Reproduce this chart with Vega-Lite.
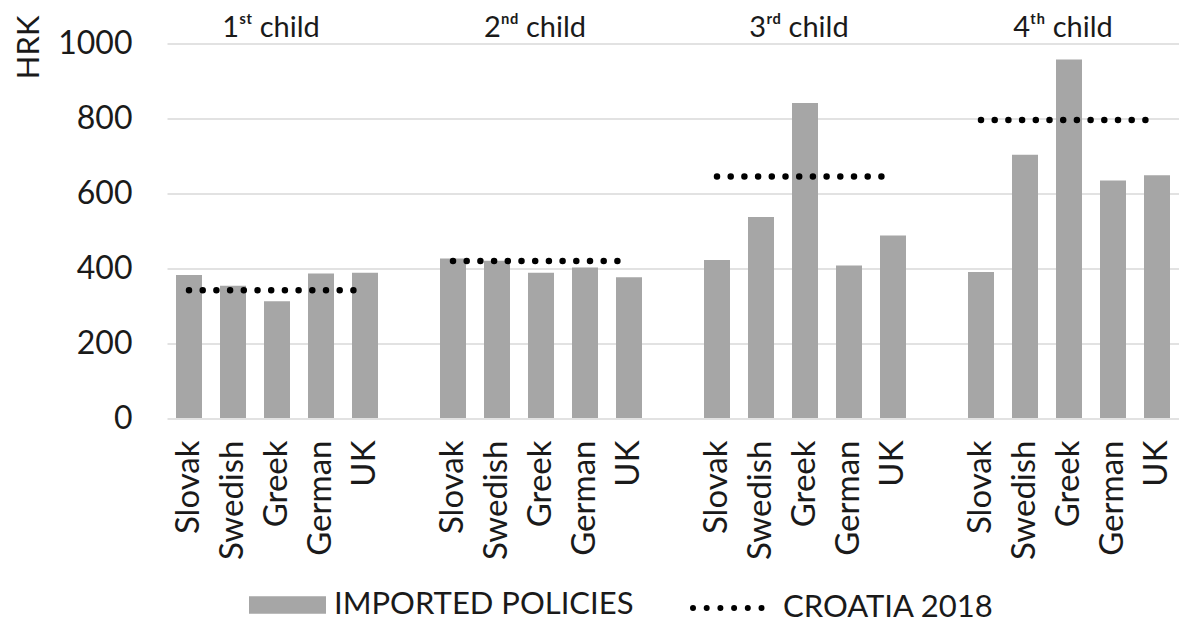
{
  "$schema": "https://vega.github.io/schema/vega-lite/v6.json",
  "width": 1012,
  "height": 374.5,
  "autosize": {"type": "none"},
  "padding": {"left": 167, "top": 43.5, "right": 0, "bottom": 202},
  "background": "white",
  "config": {
    "view": {"stroke": null},
    "font": "Lato",
    "text": {"font": "Lato"}
  },
  "data": {
    "values": [
      {"child": "1ˢᵗ child", "key": "1 Slovak", "country": "Slovak", "value": 382, "croatia": 341, "group": 1},
      {"child": "1ˢᵗ child", "key": "1 Swedish", "country": "Swedish", "value": 353, "croatia": 341, "group": 1},
      {"child": "1ˢᵗ child", "key": "1 Greek", "country": "Greek", "value": 312, "croatia": 341, "group": 1},
      {"child": "1ˢᵗ child", "key": "1 German", "country": "German", "value": 386, "croatia": 341, "group": 1},
      {"child": "1ˢᵗ child", "key": "1 UK", "country": "UK", "value": 388, "croatia": 341, "group": 1},
      {"child": "2ⁿᵈ child", "key": "2 Slovak", "country": "Slovak", "value": 426, "croatia": 419, "group": 2},
      {"child": "2ⁿᵈ child", "key": "2 Swedish", "country": "Swedish", "value": 420, "croatia": 419, "group": 2},
      {"child": "2ⁿᵈ child", "key": "2 Greek", "country": "Greek", "value": 388, "croatia": 419, "group": 2},
      {"child": "2ⁿᵈ child", "key": "2 German", "country": "German", "value": 402, "croatia": 419, "group": 2},
      {"child": "2ⁿᵈ child", "key": "2 UK", "country": "UK", "value": 376, "croatia": 419, "group": 2},
      {"child": "3ʳᵈ child", "key": "3 Slovak", "country": "Slovak", "value": 422, "croatia": 645, "group": 3},
      {"child": "3ʳᵈ child", "key": "3 Swedish", "country": "Swedish", "value": 537, "croatia": 645, "group": 3},
      {"child": "3ʳᵈ child", "key": "3 Greek", "country": "Greek", "value": 841, "croatia": 645, "group": 3},
      {"child": "3ʳᵈ child", "key": "3 German", "country": "German", "value": 407, "croatia": 645, "group": 3},
      {"child": "3ʳᵈ child", "key": "3 UK", "country": "UK", "value": 487, "croatia": 645, "group": 3},
      {"child": "4ᵗʰ child", "key": "4 Slovak", "country": "Slovak", "value": 390, "croatia": 796, "group": 4},
      {"child": "4ᵗʰ child", "key": "4 Swedish", "country": "Swedish", "value": 703, "croatia": 796, "group": 4},
      {"child": "4ᵗʰ child", "key": "4 Greek", "country": "Greek", "value": 957, "croatia": 796, "group": 4},
      {"child": "4ᵗʰ child", "key": "4 German", "country": "German", "value": 634, "croatia": 796, "group": 4},
      {"child": "4ᵗʰ child", "key": "4 UK", "country": "UK", "value": 648, "croatia": 796, "group": 4}
    ]
  },
  "encoding": {
    "x": {
      "field": "key",
      "type": "nominal",
      "sort": null,
      "scale": {
        "domain": ["1 Slovak", "1 Swedish", "1 Greek", "1 German", "1 UK", "gap1",
                   "2 Slovak", "2 Swedish", "2 Greek", "2 German", "2 UK", "gap2",
                   "3 Slovak", "3 Swedish", "3 Greek", "3 German", "3 UK", "gap3",
                   "4 Slovak", "4 Swedish", "4 Greek", "4 German", "4 UK"],
        "paddingInner": 0.409,
        "paddingOuter": 0.2045
      },
      "axis": {
        "title": null,
        "labelExpr": "indexof(datum.value, 'gap') == 0 ? '' : slice(datum.value, 2)",
        "labelAngle": -90,
        "labelFontSize": 33,
        "labelColor": "#1a1a1a",
        "labelPadding": 22,
        "ticks": false,
        "domain": false,
        "grid": false
      }
    }
  },
  "layer": [
    {
      "mark": {"type": "bar", "color": "#a6a6a6"},
      "encoding": {
        "y": {
          "field": "value",
          "type": "quantitative",
          "scale": {"domain": [0, 1000], "nice": false},
          "axis": {
            "title": "HRK",
            "titleFontSize": 31,
            "titleFontWeight": "normal",
            "titleColor": "#1a1a1a",
            "titleAngle": -90,
            "titleAlign": "right",
            "titleBaseline": "middle",
            "titleX": -137.5,
            "titleY": -28.5,
            "values": [0, 200, 400, 600, 800, 1000],
            "format": "d",
            "labelFontSize": 32,
            "labelColor": "#1a1a1a",
            "labelPadding": 35,
            "ticks": false,
            "domain": false,
            "gridColor": "#d9d9d9",
            "gridWidth": 1.5
          }
        },
        "fill": {
          "datum": "IMPORTED POLICIES",
          "scale": {"range": ["#a6a6a6"]},
          "legend": {
            "orient": "none",
            "legendX": 82,
            "legendY": 523,
            "title": null,
            "symbolType": "M-1,-0.23H1V0.23H-1Z",
            "symbolSize": 5929,
            "symbolStrokeWidth": 0,
            "labelFontSize": 31,
            "labelColor": "#1a1a1a",
            "labelOffset": 8,
            "labelLimit": 0
          }
        }
      }
    },
    {
      "mark": {"type": "line", "color": "black", "strokeWidth": 6.5, "strokeCap": "round"},
      "encoding": {
        "y": {"field": "croatia", "type": "quantitative"},
        "detail": {"field": "group"},
        "strokeDash": {
          "datum": "CROATIA 2018",
          "scale": {"range": [[0, 13.7]]},
          "legend": {
            "orient": "none",
            "legendX": 523,
            "legendY": 525,
            "title": null,
            "symbolType": "stroke",
            "symbolSize": 5329,
            "symbolStrokeWidth": 6,
            "symbolStrokeColor": "black",
            "symbolDash": [0, 12],
            "labelFontSize": 31,
            "labelColor": "#1a1a1a",
            "labelOffset": 14,
            "labelLimit": 0,
            "encode": {"symbols": {"update": {"strokeCap": {"value": "round"}, "strokeDash": {"value": [0, 12]}}}}
          }
        }
      }
    },
    {
      "transform": [{"filter": "datum.country == 'Greek'"}],
      "mark": {"type": "text", "fontSize": 29, "color": "#1a1a1a", "baseline": "alphabetic", "dx": -6},
      "encoding": {
        "y": {"datum": 1017},
        "text": {"field": "child"}
      }
    }
  ]
}
